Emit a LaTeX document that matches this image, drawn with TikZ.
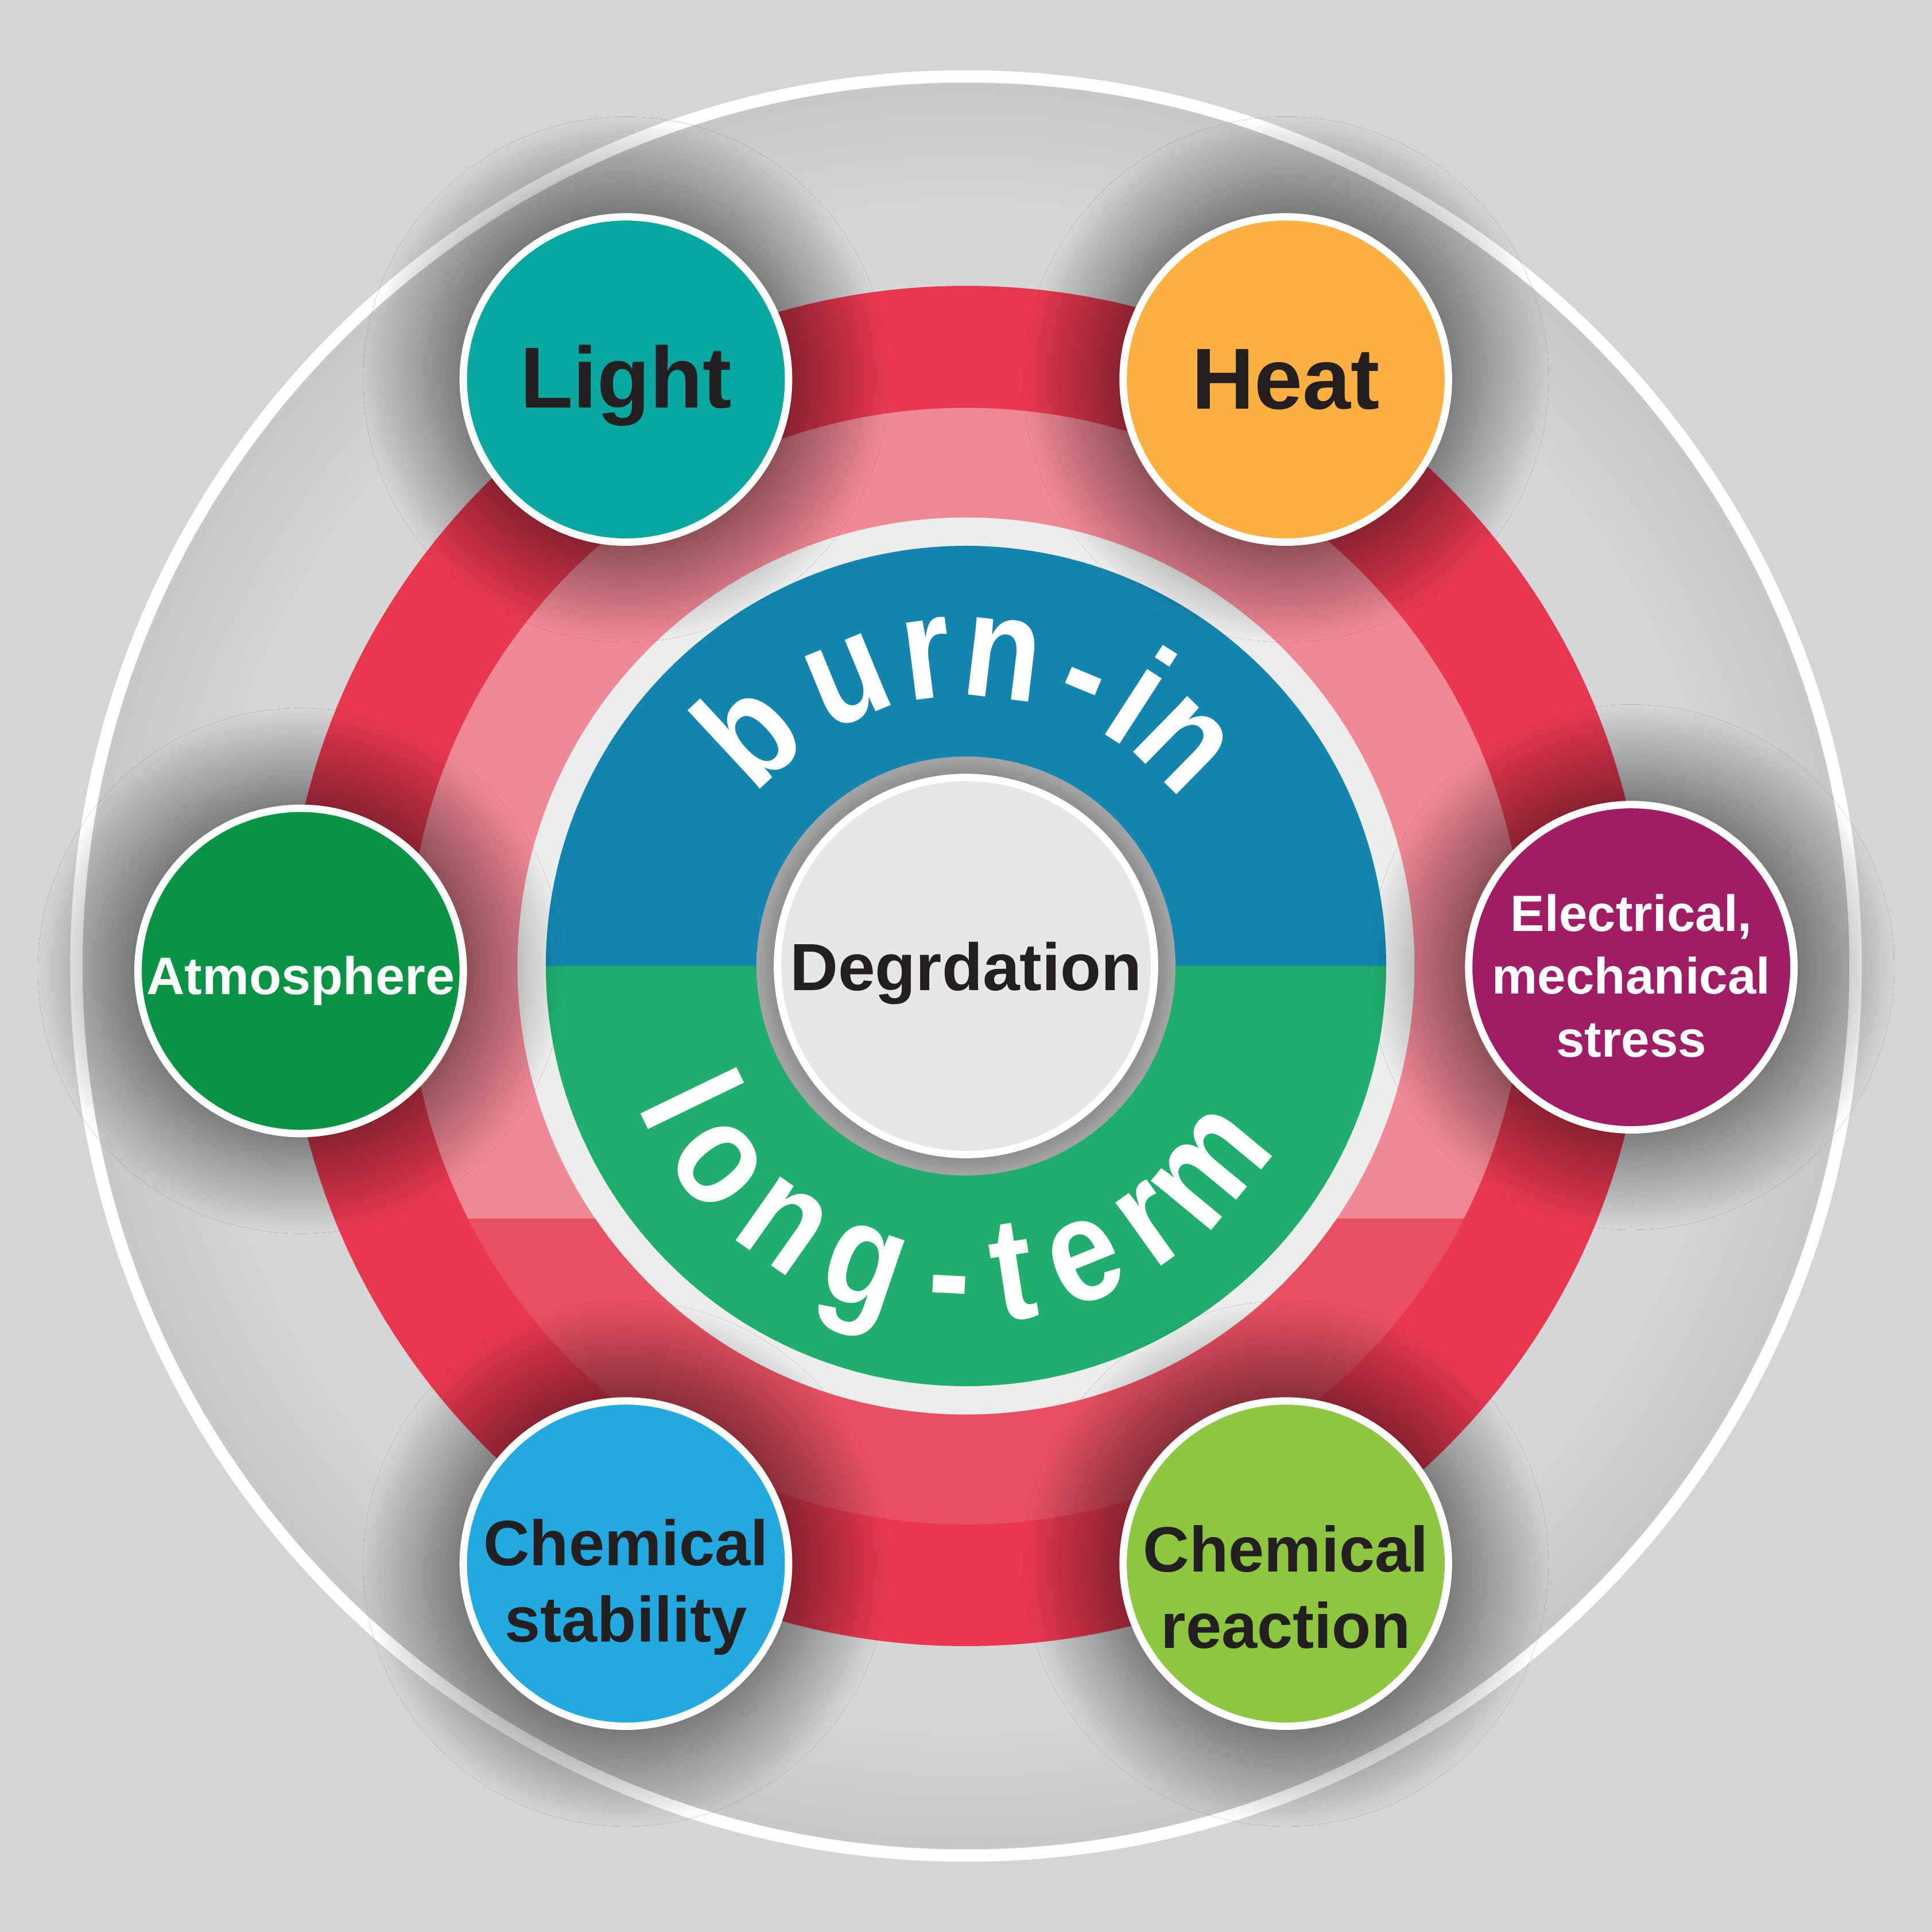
\documentclass[tikz,border=0pt]{standalone}
\usepackage{fontspec}
\usepackage{graphicx}
\setmainfont{Liberation Sans}
\usetikzlibrary{shadows.blur}

\definecolor{bggray}{RGB}{211,212,214}
\definecolor{discgray}{RGB}{213,214,216}
\definecolor{rimgray}{RGB}{198,199,201}
\definecolor{ringred}{RGB}{232,56,79}
\definecolor{ringpink}{RGB}{240,136,149}
\definecolor{ringmid}{RGB}{232,80,98}
\definecolor{rimwhite}{RGB}{236,238,237}
\definecolor{burnblue}{RGB}{19,133,174}
\definecolor{longgreen}{RGB}{31,174,107}
\definecolor{coregray}{RGB}{230,231,232}
\definecolor{shadegray}{RGB}{138,138,140}
\definecolor{shadelight}{RGB}{165,165,167}
\definecolor{lightteal}{RGB}{7,168,159}
\definecolor{heatorange}{RGB}{251,176,64}
\definecolor{atmosgreen}{RGB}{9,147,69}
\definecolor{elecpurple}{RGB}{160,29,101}
\definecolor{stabblue}{RGB}{34,169,224}
\definecolor{reactlime}{RGB}{141,198,63}
\definecolor{inkdark}{RGB}{35,31,32}

\pgfdeclareradialshading{outerdisc}{\pgfpoint{0bp}{0bp}}{color(0bp)=(discgray); color(21bp)=(discgray); color(24.6bp)=(rimgray); color(25bp)=(rimgray); color(50bp)=(rimgray)}
\pgfdeclareradialshading{coreshadow}{\pgfpoint{0bp}{0bp}}{color(0bp)=(shadegray); color(22.5bp)=(shadegray); color(25bp)=(shadelight); color(50bp)=(shadelight)}

\tikzset{
  factor/.style={circle, minimum size=2.64cm, inner sep=0pt, draw=white, line width=0.06cm,
    blur shadow={shadow xshift=0pt, shadow yshift=0pt, shadow scale=1.03, shadow blur radius=0.75cm,
      shadow blur steps=40, shadow opacity=80}},
  factortext/.style={align=center, inner sep=0pt},
  arcletter/.style={text=white, font=\fontsize{34}{34}\selectfont\bfseries, inner sep=0pt, anchor=base},
}

\begin{document}
\begin{tikzpicture}
% Canvas
\fill[bggray] (-7.84,-7.84) rectangle (7.84,7.84);
\useasboundingbox (-7.84,-7.84) rectangle (7.84,7.84);

% Outer disc with white rim
\shade[shading=outerdisc] (0,0) circle (7.22);
\draw[white, line width=0.1cm] (0,0) circle (7.22);

% Red and pink rings
\fill[ringred] (0,0) circle (5.52);
\fill[ringpink] (0,0) circle (4.53);
\begin{scope}
  \clip (-5,-5) rectangle (5,-2.05);
  \fill[ringmid] (0,0) circle (4.53);
\end{scope}

% Centre disc
\fill[rimwhite] (0,0) circle (3.64);
\fill[burnblue] (3.41,0) arc[start angle=0, end angle=180, radius=3.41] -- cycle;
\fill[longgreen] (-3.41,0) arc[start angle=180, end angle=360, radius=3.41] -- cycle;
\shade[shading=coreshadow] (0,0) circle (1.70);
\node[circle, minimum size=3.06cm, inner sep=0pt, fill=coregray, draw=white, line width=0.06cm, text depth=0pt,
  text=inkdark, font=\fontsize{15.4}{18}\selectfont\bfseries] (degr) at (0,0) {Degrdation};

% Curved labels
\foreach \ch/\ang in {b/132.9, u/112.4, r/97.2, n/83.2, -/67.5, i/57.1, n/45.6}
  \node[arcletter, rotate=\ang-90] at (\ang:2.19) {\scalebox{0.86}[1]{\ch}};
\foreach \ch/\ang in {l/205.8, o/218.6, n/234.8, g/251.3, -/267, t/278.7, e/292, r/305.6, m/320.4}
  \node[arcletter, rotate=\ang+90] at (\ang:2.90) {\scalebox{0.86}[1]{\ch}};

% Factors
\node[factor, fill=lightteal] (light) at (-2.76,4.76) {};
\node[factor, fill=heatorange] (heat) at (2.595,4.76) {};
\node[factor, fill=atmosgreen] (atmos) at (-5.40,-0.04) {};
\node[factor, fill=elecpurple] (elec) at (5.40,-0.01) {};
\node[factor, fill=stabblue] (chemstab) at (-2.76,-4.85) {};
\node[factor, fill=reactlime] (chemreact) at (2.595,-4.85) {};

% Factor labels
\node[factortext, text=inkdark, font=\fontsize{20}{24}\selectfont\bfseries] (light-text) at ([yshift=-0.05cm]light.center) {Light};
\node[factortext, text=inkdark, font=\fontsize{20}{24}\selectfont\bfseries] (heat-text) at (heat.center) {Heat};
\node[factortext, text=white, font=\fontsize{12.2}{14}\selectfont\bfseries] (atmos-text) at ([yshift=-0.08cm]atmos.center) {Atmosphere};
\node[factortext, text=white, font=\fontsize{11.8}{14.5}\selectfont\bfseries] (elec-text) at ([yshift=-0.07cm]elec.center) {Electrical,\\mechanical\\stress};
\node[factortext, text=inkdark, font=\fontsize{14.8}{17.6}\selectfont\bfseries] (chemstab-text) at ([yshift=-0.19cm]chemstab.center) {Chemical\\stability};
\node[factortext, text=inkdark, font=\fontsize{14.8}{17.6}\selectfont\bfseries] (chemreact-text) at ([yshift=-0.19cm]chemreact.center) {Chemical\\reaction};

\end{tikzpicture}
\end{document}
